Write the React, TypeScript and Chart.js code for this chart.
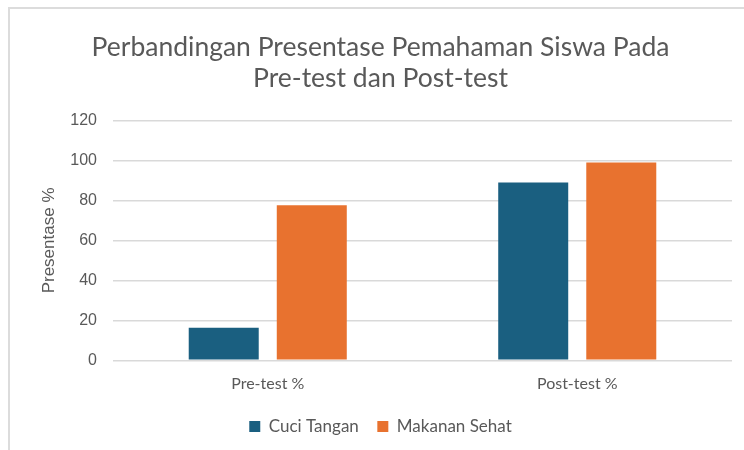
import React, { useEffect, useRef } from "react";
import { Chart, registerables } from "chart.js";

Chart.register(...registerables);

const categories = ["Pre-test %", "Post-test %"];
const cuciTangan = [16.3, 89];
const makananSehat = [77.6, 99];
const seriesNames = ["Cuci Tangan", "Makanan Sehat"];
const titleLines = ["Perbandingan Presentase Pemahaman Siswa Pada", "Pre-test dan Post-test"];
const yAxisTitle = "Presentase %";

export default function App() {
  const ref = useRef<HTMLCanvasElement>(null);
  useEffect(() => {
    document.body.style.margin = "0";
    document.body.style.overflow = "hidden";
    const ctx = ref.current!;
    const chart = new Chart(ctx, {
      type: "bar",
      data: {
        labels: categories,
        datasets: [
          { label: seriesNames[0], data: cuciTangan, backgroundColor: "#1a5f80" },
          { label: seriesNames[1], data: makananSehat, backgroundColor: "#e8722f" },
        ],
      },
      options: {
        animation: false,
        responsive: false,
        maintainAspectRatio: false,
        layout: { padding: { left: 29, right: 12, top: 0, bottom: 5 } },
        datasets: { bar: { barPercentage: 0.795, categoryPercentage: 0.569 } },
        plugins: {
          title: {
            display: true,
            text: titleLines,
            color: "#595959",
            font: { family: "Lato", size: 26.5, weight: "normal", lineHeight: 1.18 },
            padding: { top: 32, bottom: 26 },
          },
          legend: {
            position: "bottom",
            labels: {
              color: "#595959",
              font: { family: "Lato", size: 17 },
              boxWidth: 11,
              boxHeight: 11,
              padding: 18.5,
            },
          },
          tooltip: { enabled: false },
        },
        scales: {
          x: {
            grid: { display: false },
            border: { display: false },
            ticks: { color: "#595959", font: { family: "Lato", size: 16 }, padding: 6 },
          },
          y: {
            min: 0,
            max: 120,
            ticks: { stepSize: 20, color: "#595959", font: { family: "Liberation Sans", size: 16 }, padding: 16 },
            grid: { color: "#d9d9d9", lineWidth: 1.5, drawTicks: false },
            border: { display: false },
            title: {
              display: true,
              text: yAxisTitle,
              color: "#595959",
              font: { family: "Liberation Sans", size: 17 },
              padding: { top: 10, bottom: 0 },
            },
            afterFit: (scale: any) => {
              scale.width = 84;
            },
          },
        },
      },
    });
    return () => chart.destroy();
  }, []);
  return (
    <div style={{ position: "fixed", left: 0, top: 0, width: 744, height: 450, background: "#fff" }}>
      <div
        style={{
          position: "absolute",
          left: 8,
          top: 7,
          width: 800,
          height: 500,
          borderTop: "2px solid #dcdcdc",
          borderLeft: "2px solid #dcdcdc",
        }}
      />
      <canvas ref={ref} width={744} height={450} style={{ position: "absolute", left: 0, top: 0 }} />
    </div>
  );
}
